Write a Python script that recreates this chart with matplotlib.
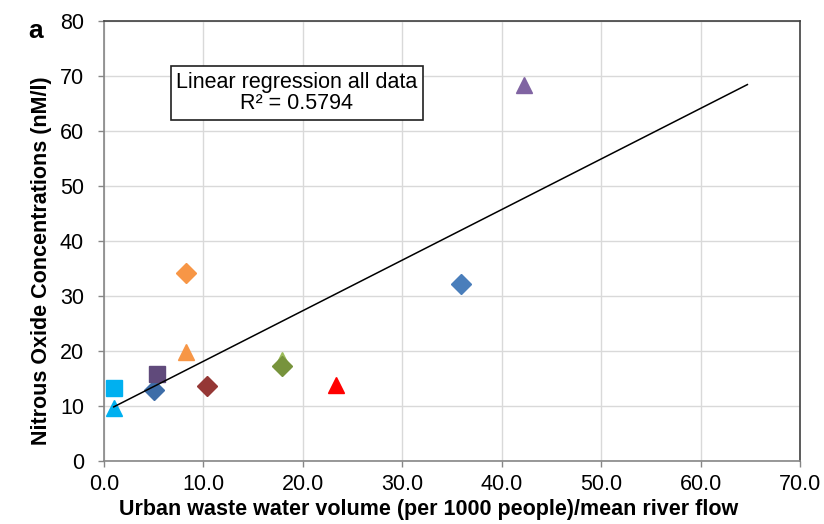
import numpy as np
import matplotlib.pyplot as plt

plt.rcParams['font.family'] = ['Liberation Sans', 'DejaVu Sans']

# data points (one marker per site)
x_vals = [1.0, 1.0, 5.0, 5.3, 8.3, 8.3, 10.4, 17.9, 17.9, 23.3, 35.9, 42.2]
y_vals = [13.3, 9.6, 12.9, 15.9, 34.2, 19.9, 13.7, 18.4, 17.3, 13.8, 32.2, 68.4]
markers = ['s', '^', 'D', 's', 'D', '^', 'D', '^', 'D', '^', 'D', '^']
colors = ['#00B0F0', '#00B0F0', '#3D6DA8', '#604A7B', '#F79646', '#F79646',
          '#953735', '#9BBB59', '#77933C', '#FF0000', '#4A7EBB', '#8064A2']
trend_end = 64.7

fig = plt.figure(figsize=(8.24, 5.24), dpi=100)
ax = fig.add_axes([0.126, 0.120, 0.845, 0.840])

sizes = {'s': 12, '^': 12, 'D': 10}
for x, y, m, c in zip(x_vals, y_vals, markers, colors):
    ax.plot(x, y, marker=m, color=c, markersize=sizes[m], linestyle='none', zorder=3)

# linear regression over all points, extended forward
slope, intercept = np.polyfit(x_vals, y_vals, 1)
xs = np.array([min(x_vals), trend_end])
ax.plot(xs, slope * xs + intercept, color='black', lw=1.1, zorder=4)

ax.text(19.4, 66.9, "Linear regression all data\nR² = 0.5794", ha='center', va='center',
        fontsize=15.5, linespacing=1.05, zorder=5,
        bbox=dict(facecolor='white', edgecolor='#202020', lw=1.2, boxstyle='square,pad=0.25'))

ax.set_xlim(0, 70)
ax.set_ylim(0, 80)
ax.set_xticks(np.arange(0, 71, 10))
ax.set_xticklabels([f"{v:.1f}" for v in np.arange(0, 71, 10)])
ax.set_yticks(np.arange(0, 81, 10))
ax.tick_params(labelsize=15.5, length=4.3, width=1, color='#868686', direction='out')
ax.tick_params(axis='y', pad=10)
ax.tick_params(axis='x', pad=5)
ax.grid(True, color='#D9D9D9', lw=1)
ax.set_axisbelow(True)
for side in ['left', 'bottom']:
    ax.spines[side].set_color('#868686')
    ax.spines[side].set_linewidth(1.2)
for side in ['top', 'right']:
    ax.spines[side].set_color('#404040')
    ax.spines[side].set_linewidth(1.2)

ax.set_xlabel("Urban waste water volume (per 1000 people)/mean river flow",
              fontsize=15.5, fontweight='bold')
ax.set_ylabel("Nitrous Oxide Concentrations (nM/l)", fontsize=15.5, fontweight='bold')
ax.xaxis.set_label_coords(0.467, -0.085)
ax.yaxis.set_label_coords(-0.074, 0.455)
fig.text(0.034, 0.94, "a", fontsize=19, fontweight='bold', ha='left', va='center')

fig.savefig('out.png', dpi=100)
